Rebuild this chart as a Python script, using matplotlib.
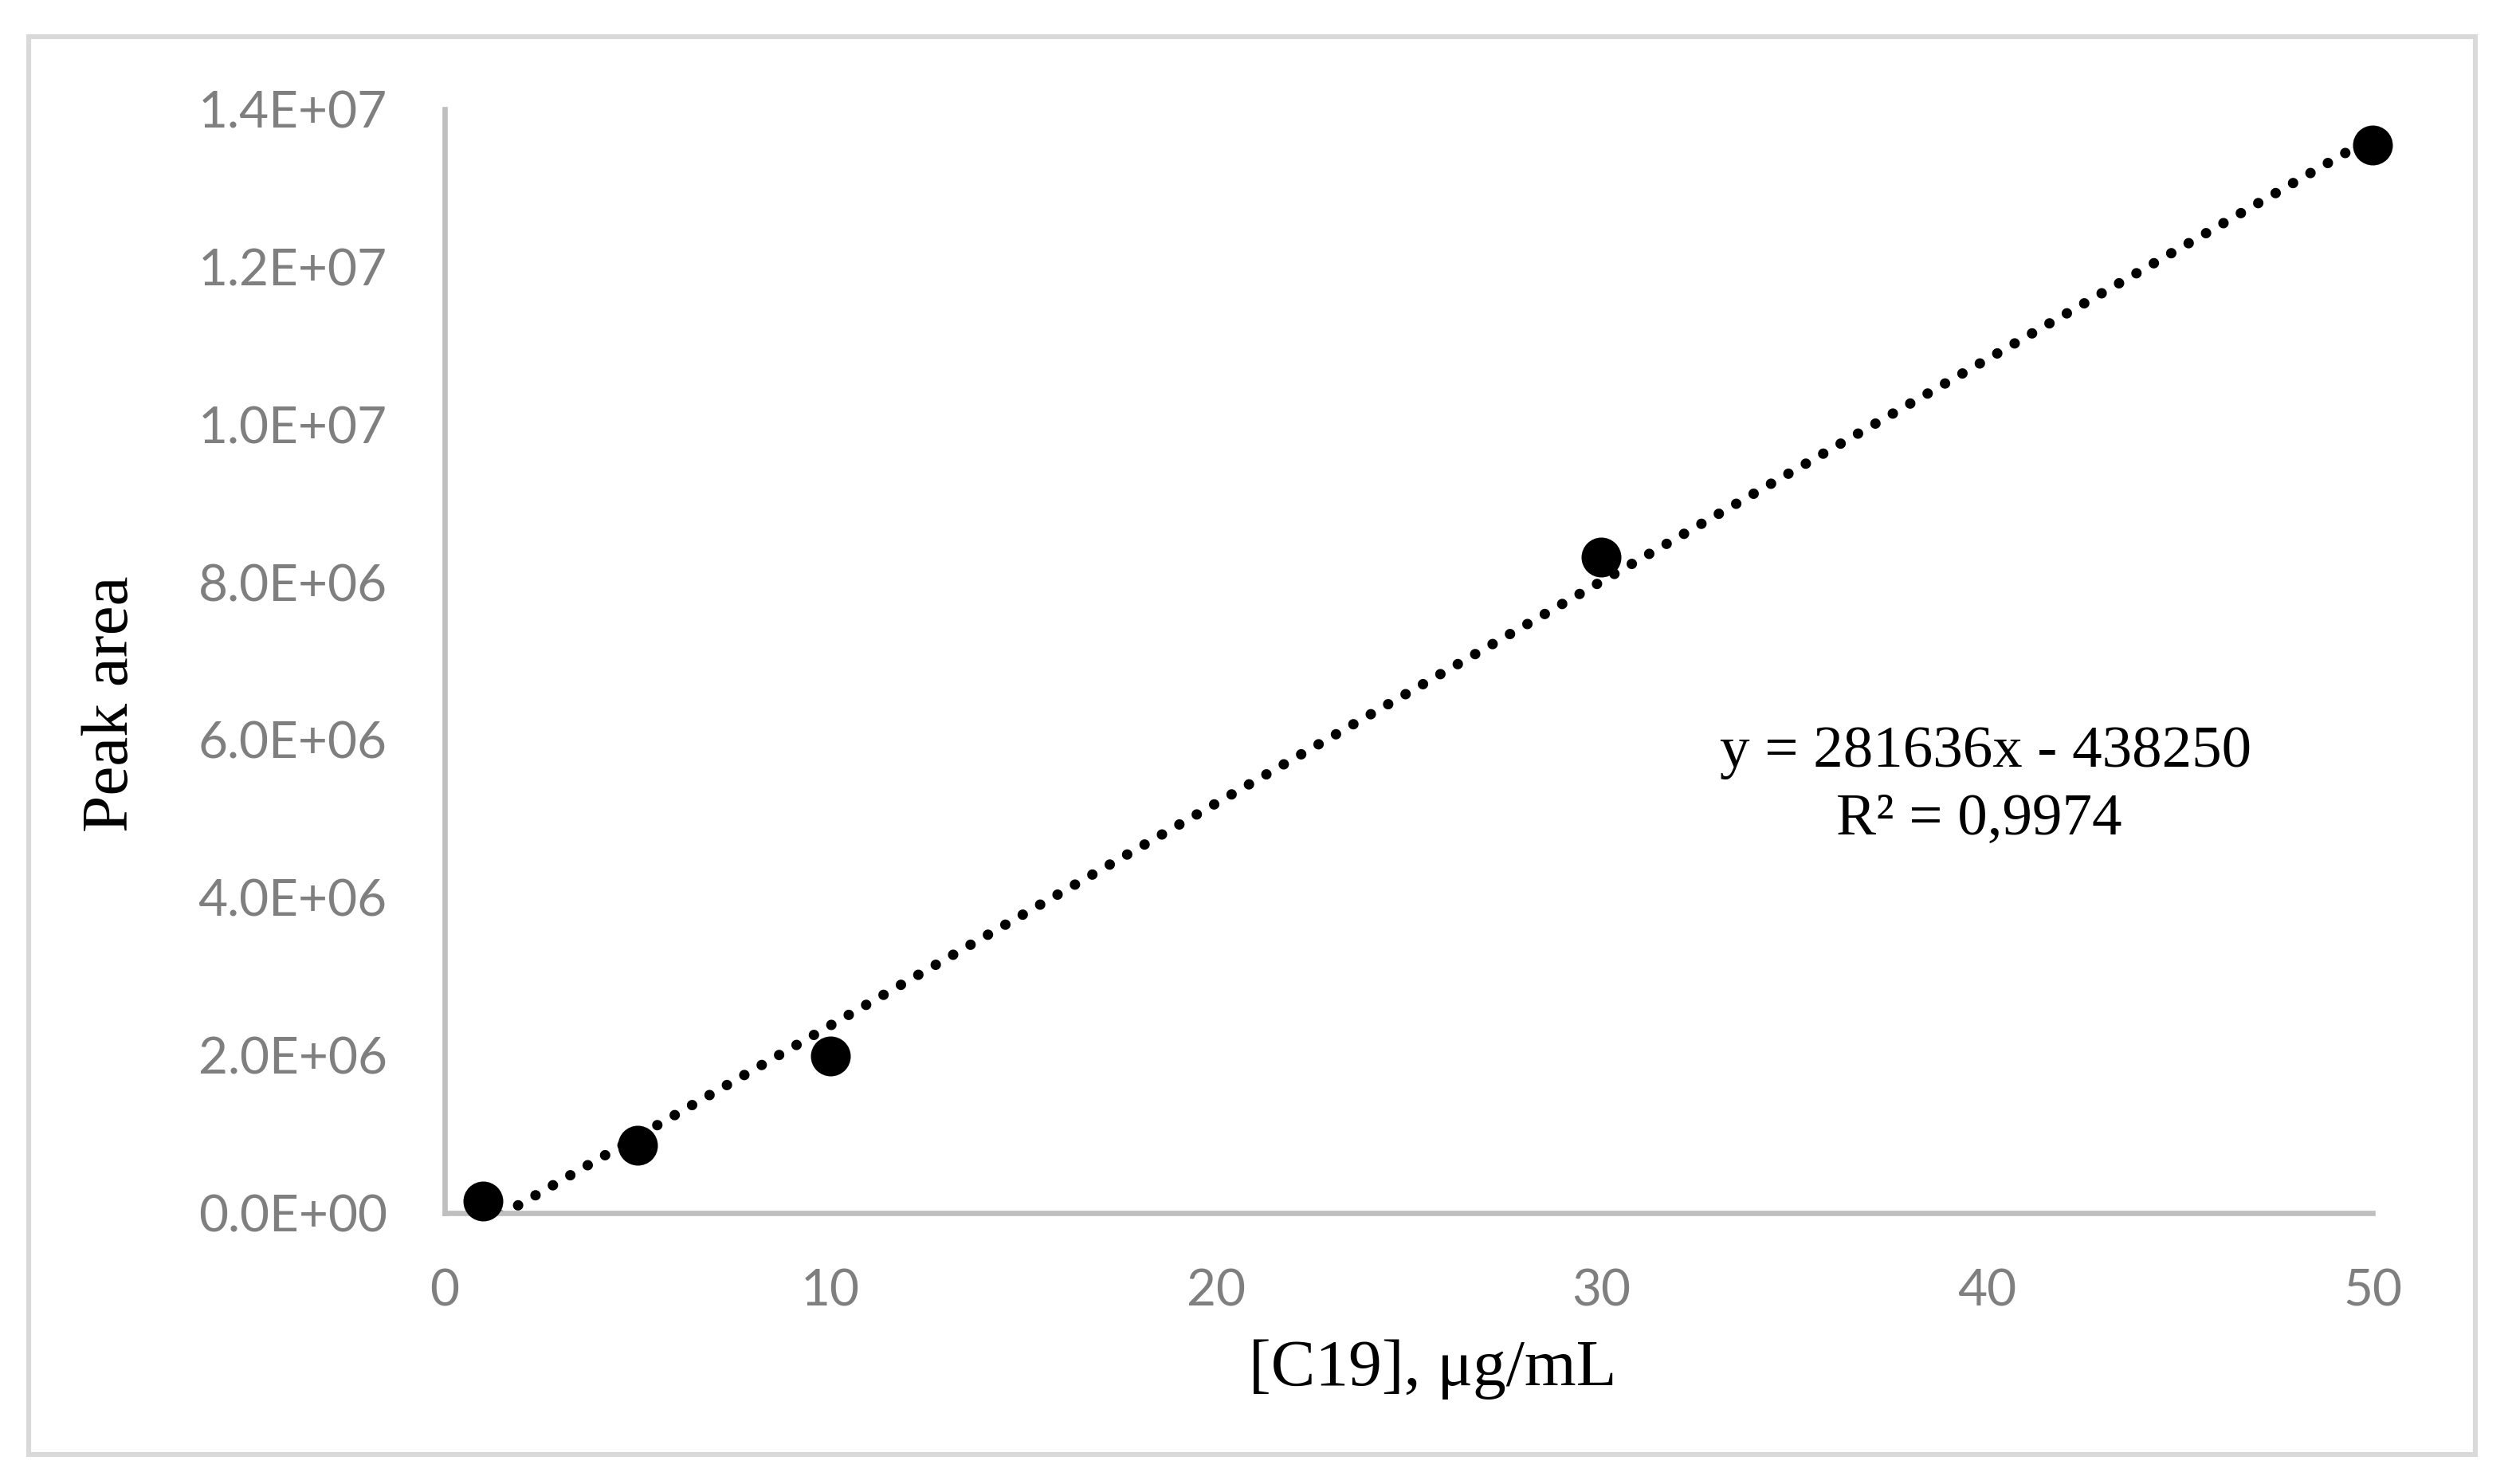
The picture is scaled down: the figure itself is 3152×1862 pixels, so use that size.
import matplotlib.pyplot as plt
import matplotlib.patches as patches
from matplotlib.ticker import FuncFormatter
import numpy as np

# calibration data
conc = [1, 5, 10, 30, 50]
peak_area = [0.15e6, 0.86e6, 1.99e6, 8.32e6, 13.55e6]

# trendline as printed on the chart
slope = 281636
intercept = -438250
eq_text = 'y = 281636x - 438250'
r2_text = 'R² = 0,9974'

x_ticks = [0, 10, 20, 30, 40, 50]
y_ticks = [0, 2e6, 4e6, 6e6, 8e6, 10e6, 12e6, 14e6]

W, H = 3152, 1862
fig = plt.figure(figsize=(W / 200, H / 200), dpi=200)
fig.patch.set_facecolor('white')

# light gray chart border
fig.patches.append(patches.Rectangle((36 / W, 1 - 1825 / H), (3106 - 36) / W, (1825 - 46) / H,
                                     transform=fig.transFigure, fill=False,
                                     edgecolor='#D9D9D9', linewidth=2.2))

ax = fig.add_axes([558 / W, 1 - 1522 / H, (2977 - 558) / W, (1522 - 137) / H])

xfit = np.array([conc[0], conc[-1]])
ax.plot(xfit, slope * xfit + intercept, color='black', linewidth=4.7,
        linestyle=(0, (0.01, 1.92)), dash_capstyle='round', zorder=2)
ax.plot(conc, peak_area, 'o', color='black', markersize=17, zorder=3, clip_on=False)

ax.set_xlim(0, 50)
ax.set_ylim(0, 1.4e7)
ax.set_xticks(x_ticks)
ax.set_yticks(y_ticks)
ax.yaxis.set_major_formatter(FuncFormatter(lambda v, p: f'{v:.1E}'))

for s in ['top', 'right']:
    ax.spines[s].set_visible(False)
for s in ['left', 'bottom']:
    ax.spines[s].set_color('#BFBFBF')
    ax.spines[s].set_linewidth(2.4)

ax.tick_params(axis='x', length=0, pad=25, labelsize=23, labelcolor='#7F7F7F')
ax.tick_params(axis='y', length=0, pad=26, labelsize=23, labelcolor='#7F7F7F')
for lab in ax.get_xticklabels() + ax.get_yticklabels():
    lab.set_family('Lato')

serif = 'Liberation Serif'
fig.text(1798 / W, 1 - 1738 / H, '[C19], μg/mL', family=serif, fontsize=30,
         ha='center', va='baseline')
fig.text(160 / W, 1 - 883 / H, 'Peak area', family=serif, fontsize=30,
         rotation=90, rotation_mode='anchor', ha='center', va='baseline')

fig.text(2492 / W, 1 - 962 / H, eq_text, family=serif, fontsize=27,
         ha='center', va='baseline')
fig.text(2483 / W, 1 - 1047 / H, r2_text, family=serif, fontsize=27,
         ha='center', va='baseline')

fig.savefig('out.png', dpi=200)
